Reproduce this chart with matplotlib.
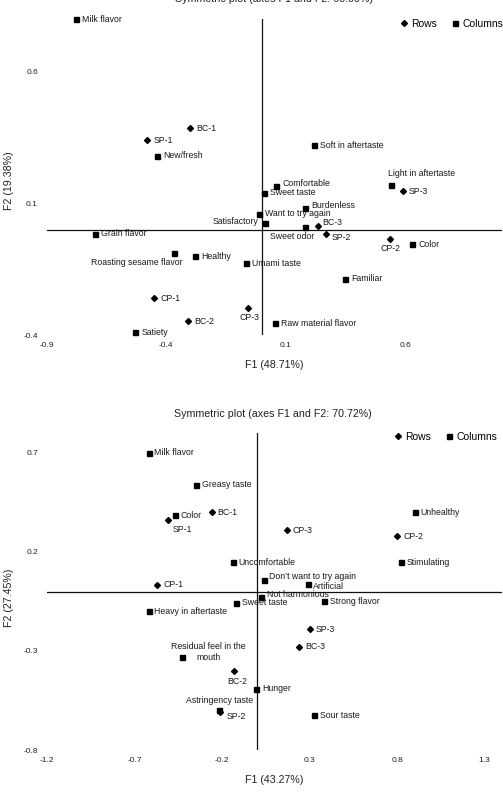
import matplotlib
matplotlib.use('Agg')
import matplotlib.pyplot as plt
from matplotlib.lines import Line2D

plt.rcParams['font.family'] = ['Liberation Sans', 'DejaVu Sans']

# ---------------- Chart 1 data ----------------
title1 = "Symmetric plot (axes F1 and F2: 68.09%)"
xlabel1 = "F1 (48.71%)"
ylabel1 = "F2 (19.38%)"
xticks1 = [-0.9, -0.4, 0.1, 0.6]
xticklabels1 = ["-0.9", "-0.4", "0.1", "0.6"]
yticks1 = [-0.4, 0.1, 0.6]
yticklabels1 = ["-0.4", "0.1", "0.6"]
rows1 = ["BC-1", "SP-1", "SP-3", "BC-3", "SP-2", "CP-2", "CP-1", "CP-3", "BC-2"]
rows1_x = [-0.30, -0.48, 0.59, 0.235, 0.27, 0.535, -0.45, -0.06, -0.31]
rows1_y = [0.385, 0.34, 0.145, 0.015, -0.017, -0.035, -0.26, -0.298, -0.347]
cols1 = ["Milk flavor", "New/fresh", "Soft in aftertaste", "Light in aftertaste",
         "Comfortable", "Sweet taste", "Burdenless", "Want to try again",
         "Satisfactory", "Sweet odor", "Grain flavor", "Color",
         "Roasting sesame flavor", "Healthy", "Umami taste", "Familiar",
         "Raw material flavor", "Satiety"]
cols1_x = [-0.78, -0.44, 0.22, 0.54, 0.06, 0.008, 0.18, -0.01, 0.013, 0.18,
           -0.70, 0.63, -0.37, -0.28, -0.067, 0.35, 0.054, -0.53]
cols1_y = [0.80, 0.28, 0.32, 0.17, 0.164, 0.14, 0.084, 0.061, 0.027, 0.011,
           -0.015, -0.056, -0.09, -0.10, -0.127, -0.186, -0.355, -0.39]

# ---------------- Chart 2 data ----------------
title2 = "Symmetric plot (axes F1 and F2: 70.72%)"
xlabel2 = "F1 (43.27%)"
ylabel2 = "F2 (27.45%)"
xticks2 = [-1.2, -0.7, -0.2, 0.3, 0.8, 1.3]
xticklabels2 = ["-1.2", "-0.7", "-0.2", "0.3", "0.8", "1.3"]
yticks2 = [-0.8, -0.3, 0.2, 0.7]
yticklabels2 = ["-0.8", "-0.3", "0.2", "0.7"]
rows2 = ["SP-1", "BC-1", "CP-3", "CP-2", "CP-1", "SP-3", "BC-3", "BC-2", "SP-2"]
rows2_x = [-0.51, -0.26, 0.17, 0.80, -0.57, 0.30, 0.24, -0.13, -0.21]
rows2_y = [0.36, 0.40, 0.31, 0.28, 0.035, -0.19, -0.28, -0.40, -0.61]
cols2 = ["Milk flavor", "Greasy taste", "Color", "Unhealthy", "Stimulating",
         "Uncomfortable", "Don\u2019t want to try again", "Artificial",
         "Not harmonious", "Sweet taste", "Strong flavor", "Heavy in aftertaste",
         "Residual feel in the\nmouth", "Hunger", "Astringency taste", "Sour taste"]
cols2_x = [-0.62, -0.35, -0.47, 0.90, 0.82, -0.14, 0.04, 0.29, 0.025, -0.12,
           0.38, -0.62, -0.43, -0.005, -0.22, 0.325]
cols2_y = [0.70, 0.54, 0.385, 0.40, 0.147, 0.147, 0.06, 0.04, -0.03, -0.056,
           -0.05, -0.10, -0.33, -0.49, -0.60, -0.625]

# ---------------- label placement (style) ----------------
DEFAULT = (6, 0, 'left')
place1 = {
    "Light in aftertaste": (-3, 11, 'left'),
    "Satisfactory": (-7, 1, 'right'),
    "Sweet odor": (9, -10, 'right'),
    "BC-3": (4, 3, 'left'),
    "SP-2": (5, -3, 'left'),
    "CP-2": (1, -10, 'center'),
    "Roasting sesame flavor": (9, -9, 'right'),
    "CP-3": (2, -9, 'center'),
    "Comfortable": (6, 3, 'left'),
    "Burdenless": (6, 2, 'left'),
}
place2 = {
    "SP-1": (5, -9, 'left'),
    "Don\u2019t want to try again": (5, 3, 'left'),
    "Artificial": (5, -3, 'left'),
    "Not harmonious": (6, 3, 'left'),
    "Residual feel in the\nmouth": (27, 5, 'center'),
    "BC-2": (3, -11, 'center'),
    "Astringency taste": (1, 10, 'center'),
    "SP-2": (6, -4, 'left'),
}

W, H = 503, 805
fig = plt.figure(figsize=(W / 100, H / 100), dpi=100)


def fx(px):
    return px / W


def fy(py):
    return 1 - py / H


LBL = 6.3
TCK = 6.0
AX = 7.7


def draw(ax, rows, rx, ry, cols, cx, cy, place, xticks, xtl, yticks, ytl,
         xlim, ylim):
    ax.set_xlim(*xlim)
    ax.set_ylim(*ylim)
    for s in ax.spines.values():
        s.set_visible(False)
    ax.axhline(0, color='#111111', lw=0.9, zorder=1)
    ax.axvline(0, color='#111111', lw=0.9, zorder=1)
    ax.set_xticks(xticks)
    ax.set_xticklabels(xtl)
    ax.set_yticks(yticks)
    ax.set_yticklabels(ytl)
    ax.tick_params(axis='both', length=0, labelsize=TCK, colors='#222222')
    ax.tick_params(axis='x', pad=5)
    ax.tick_params(axis='y', pad=6.5)
    ax.plot(rx, ry, linestyle='none', marker='D', markersize=3.0,
            color='black', clip_on=False, zorder=3)
    ax.plot(cx, cy, linestyle='none', marker='s', markersize=3.6,
            color='black', clip_on=False, zorder=3)
    for names, xs, ys in ((rows, rx, ry), (cols, cx, cy)):
        for n, x, y in zip(names, xs, ys):
            dx, dy, ha = place.get(n, DEFAULT)
            ax.annotate(n, (x, y), xytext=(dx, dy), textcoords='offset pixels',
                        ha=ha, va='center', fontsize=LBL, color='#1a1a1a',
                        multialignment='center', annotation_clip=False)


# top chart
ax1 = fig.add_axes([fx(47), fy(335), fx(502 - 47), (335 - 19) / H])
draw(ax1, rows1, rows1_x, rows1_y, cols1, cols1_x, cols1_y, place1,
     xticks1, xticklabels1, yticks1, yticklabels1, (-0.9, 1.006), (-0.4, 0.8))

# bottom chart
ax2 = fig.add_axes([fx(47), fy(750), fx(502 - 47), (750 - 433) / H])
draw(ax2, rows2, rows2_x, rows2_y, cols2, cols2_x, cols2_y, place2,
     xticks2, xticklabels2, yticks2, yticklabels2, (-1.2, 1.4), (-0.8, 0.8))

# titles and axis labels
fig.text(fx(274), fy(-1), title1, ha='center', va='center', fontsize=AX, color='#222222')
fig.text(fx(273), fy(414), title2, ha='center', va='center', fontsize=AX, color='#222222')
fig.text(fx(274), fy(365), xlabel1, ha='center', va='center', fontsize=AX, color='#222222')
fig.text(fx(274), fy(780), xlabel2, ha='center', va='center', fontsize=AX, color='#222222')
fig.text(fx(9), fy(181), ylabel1, ha='center', va='center', rotation=90, fontsize=AX, color='#222222')
fig.text(fx(9), fy(598), ylabel2, ha='center', va='center', rotation=90, fontsize=AX, color='#222222')

# legends
handles = [Line2D([], [], linestyle='none', marker='D', markersize=3.0, color='black'),
           Line2D([], [], linestyle='none', marker='s', markersize=3.6, color='black')]
for ypx, xr in ((24, 503), (437, 497)):
    fig.legend(handles, ["Rows", "Columns"], ncol=2, frameon=False,
               loc='center right', bbox_to_anchor=(fx(xr), fy(ypx)),
               bbox_transform=fig.transFigure, fontsize=7.5,
               handlelength=0.6, handletextpad=0.4, columnspacing=1.4,
               borderpad=0, borderaxespad=0)

fig.savefig('out.png', dpi=100)
